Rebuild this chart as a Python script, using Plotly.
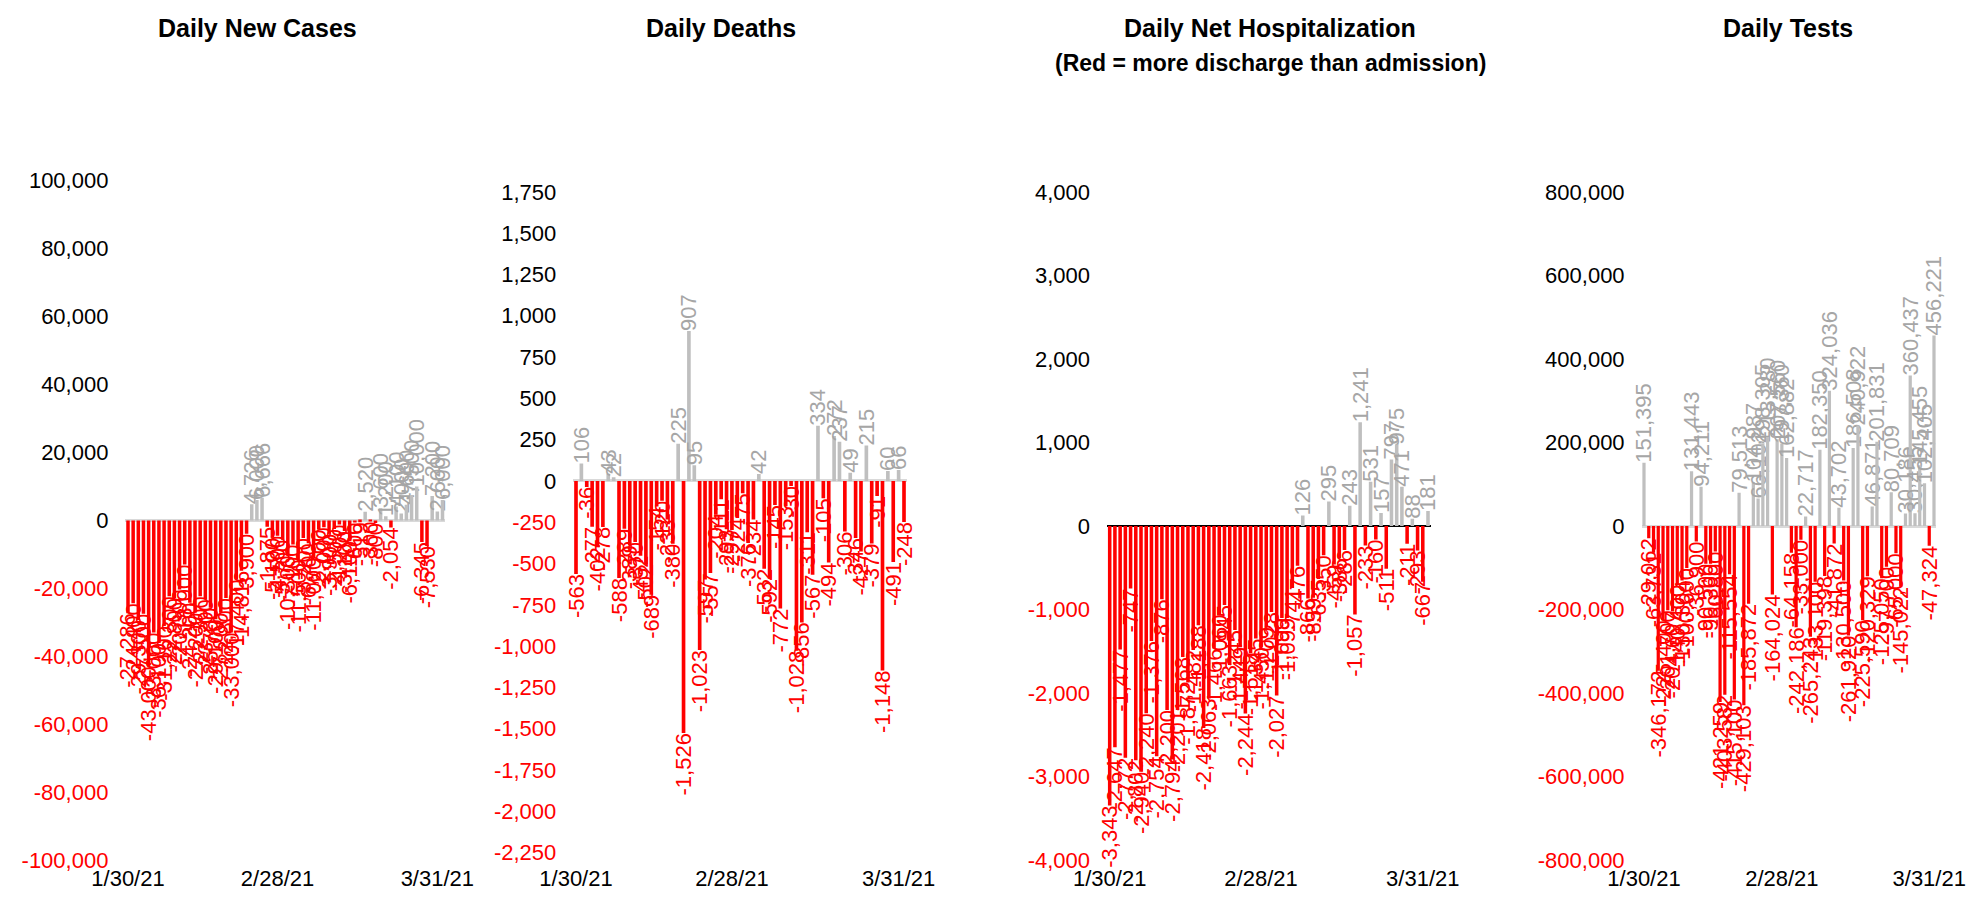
import plotly.graph_objects as go
import pandas as pd

# ---------------- data ----------------
start_date = "2021-01-30"
n_days = 62
dates = pd.date_range(start_date, periods=n_days, freq="D")

new_cases = [-27286, -24400, -29300, -27500, -43000, -33000, -36100, -31100, -22300, -22800,
             -20300, -13000, -24200, -27200, -22300, -23200, -25700, -29100, -27200, -22800,
             -33000, -17400, -14816, -3900, 4726, 6000, 6666, -1875, -5100, -4500,
             -5700, -10300, -7100, -11500, -5200, -6700, -11000, -2700, -2000, -3900,
             -2500, -1200, -3100, -6100, -600, -519, 2520, -300, -800, 3600,
             1200, -2054, 4100, 2000, 4600, 7500, 10000, -6345, -7530, 7200,
             2600, 6000]

deaths = [-563, 106, -36, -277, -402, -278, 43, 22, -588, -289,
          -389, -370, -452, -502, -689, -154, -120, -233, -380, 225,
          -1526, 907, 95, -1023, -597, -557, -204, -111, -293, -297,
          -224, -75, -376, -234, 42, -532, -592, -145, -772, -153,
          -30, -1028, -856, -311, -567, 334, -105, -494, 272, 237,
          -306, 49, -346, -427, 215, -379, -91, -1148, 60, -491,
          66, -248]

hospitalization = [-3343, -2647, -1477, -2772, -747, -2802, -2940, -2240, -1376, -2754,
                   -876, -2200, -2794, -2201, -1568, -1872, -1482, -1188, -2418, -2063,
                   -1466, -1060, -945, -1663, -1245, -1449, -2244, -1518, -1345, -1450,
                   -1209, -1028, -2027, -1099, -1099, -741, -476, 126, -866, -859,
                   -635, -350, 295, -459, -386, -286, 243, -1057, 1241, -233,
                   531, -160, 157, -511, 797, 975, 471, -211, 88, -293,
                   -667, 181]

tests = [151395, -29062, -63731, -346172, -225400, -201700, -204607, -140400, -130304, -100600,
         131443, -36900, 94211, -90500, -90300, -60800, -421259, -403582, -115554, -415100,
         79513, -429103, -185872, 104987, 66102, 198305, 213280, -164024, 207560, 197360,
         162882, -64158, -242186, -33000, 22717, -265243, -133100, 182350, -119398, 324036,
         -41872, 43702, -130500, -261920, 186508, 240922, -225590, -120329, 46871, 201831,
         -125050, -97700, 80709, -65000, -145022, 30186, 360437, 30455, 145455, 102405,
         -47324, 456221]

titles = ["Daily New Cases", "Daily Deaths", "Daily Net Hospitalization", "Daily Tests"]
subtitle = "(Red = more discharge than admission)"

x_tick_dates = ["2021-01-30", "2021-02-28", "2021-03-31"]
x_tick_labels = ["1/30/21", "2/28/21", "3/31/21"]

y_ticks_cases = list(range(-100000, 100001, 20000))
y_ticks_deaths = list(range(-2250, 1751, 250))
y_ticks_hosp = list(range(-4000, 4001, 1000))
y_ticks_tests = list(range(-800000, 800001, 200000))

# ---------------- style ----------------
RED = "#FF0000"
BAR_GRAY = "#BFBFBF"
LABEL_GRAY = "#A6A6A6"
TICK_FONT = "Liberation Sans, Arial, sans-serif"
TITLE_FONT = "Liberation Sans, Arial, sans-serif"
W, H = 1974, 899

# panel geometry in pixels: (first bar x, last bar x, plot top y, plot bottom y)
panels = [
    (new_cases, y_ticks_cases, 120.0, 434.5, 172.5, 852.3, "#D9D9D9"),
    (deaths, y_ticks_deaths, 568.0, 896.0, 183.8, 844.7, "#D9D9D9"),
    (hospitalization, y_ticks_hosp, 1101.7, 1420.0, 183.8, 852.3, "#000000"),
    (tests, y_ticks_tests, 1636.0, 1926.0, 183.8, 852.3, "#D9D9D9"),
]

fig = go.Figure()
day_ms = 86400000

def fmt_tick(v):
    s = f"{v:,}"
    if v < 0:
        return f"<span style='color:{RED}'>{s}</span>"
    return s

for k, (vals, yt, x0, x1, ytop, ybot, zcol) in enumerate(panels):
    idx = "" if k == 0 else str(k + 1)
    colors = [RED if v < 0 else BAR_GRAY for v in vals]
    tcolors = [RED if v < 0 else LABEL_GRAY for v in vals]
    fig.add_trace(go.Bar(
        x=dates, y=vals,
        marker=dict(color=colors, line=dict(width=0)),
        width=[0.68 * day_ms] * len(vals),
        texttemplate="%{y:,}",
        textposition="outside",
        textangle=-90,
        textfont=dict(family=TICK_FONT, size=22, color=tcolors),
        constraintext="none",
        cliponaxis=False,
        xaxis="x" + idx, yaxis="y" + idx,
        showlegend=False, hoverinfo="x+y",
    ))
    sp = (x1 - x0) / (n_days - 1)
    left_px = x0 - sp / 2
    right_px = x1 + sp / 2
    xr = [dates[0] - pd.Timedelta(hours=12), dates[-1] + pd.Timedelta(hours=12)]
    xa = dict(
        domain=[left_px / W, right_px / W],
        range=xr, type="date",
        tickvals=x_tick_dates, ticktext=x_tick_labels,
        tickfont=dict(family=TICK_FONT, size=22, color="black"),
        showgrid=False, zeroline=False, showline=False, ticks="",
        anchor="y" + idx, automargin=False, ticklabeloverflow="allow",
        ticklabelstandoff=max(0, int(round(871 - ybot - 16))),
    )
    ya = dict(
        domain=[1 - ybot / H, 1 - ytop / H],
        range=[yt[0], yt[-1]],
        tickvals=yt, ticktext=[fmt_tick(v) for v in yt],
        tickfont=dict(family=TICK_FONT, size=22, color="black"),
        showgrid=False, showline=False, ticks="",
        zeroline=True, zerolinecolor=zcol, zerolinewidth=2.5 if k != 2 else 2,
        anchor="x" + idx, automargin=False, ticklabeloverflow="allow",
        ticklabelstandoff=16,
    )
    fig.layout["xaxis" + idx] = xa
    fig.layout["yaxis" + idx] = ya

title_x = [249, 712.5, 1262, 1780]
for k, t in enumerate(titles):
    fig.add_annotation(
        x=title_x[k] / W, y=1 - 20 / H, xref="paper", yref="paper",
        text=f"<b>{t}</b>", showarrow=False, xanchor="center", yanchor="middle",
        font=dict(family=TITLE_FONT, size=25, color="black"),
    )
fig.add_annotation(
    x=1262 / W, y=1 - 55 / H, xref="paper", yref="paper",
    text=f"<b>{subtitle}</b>", showarrow=False, xanchor="center", yanchor="middle",
    font=dict(family=TITLE_FONT, size=23, color="black"),
)

fig.update_layout(
    width=W, height=H,
    margin=dict(l=0, r=0, t=0, b=0, autoexpand=False),
    paper_bgcolor="white", plot_bgcolor="white",
    barmode="overlay",
)

fig.write_html("out.html")
